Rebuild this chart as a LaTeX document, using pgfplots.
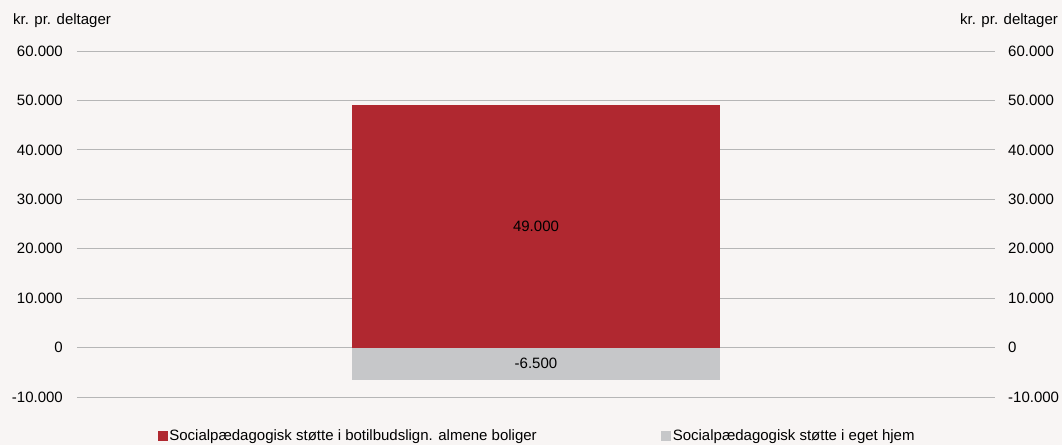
\documentclass[border=0pt]{standalone}
\usepackage{fontspec}
\setmainfont{Liberation Sans}
\usepackage{pgfplots}
\pgfplotsset{compat=1.18}

\definecolor{bg}{RGB}{248,245,244}
\definecolor{barred}{RGB}{176,40,48}
\definecolor{bargray}{RGB}{198,199,201}
\definecolor{gridgray}{RGB}{182,182,182}

\pgfplotsset{
  base/.style={
    at={(0pt,0pt)}, anchor=south west,
    scale only axis, width=918pt, height=346pt,
    xmin=-1, xmax=1, ymin=-10000, ymax=60000,
    ytick={-10000,0,10000,20000,30000,40000,50000,60000},
    scaled y ticks=false,
    xtick=\empty,
    axis line style={draw=none},
    major tick length=0pt,
    /pgf/number format/1000 sep={.},
    /pgf/number format/assume math mode=true,
    tick label style={font=\fontsize{15}{18}\selectfont},
  }
}

\begin{document}
\fontsize{15}{18}\selectfont
\begin{tikzpicture}[font=\fontsize{15}{18}\selectfont]
\fill[bg] (-77pt,-48pt) rectangle (985pt,397pt);
\useasboundingbox (-77pt,-48pt) rectangle (985pt,397pt);

\begin{axis}[base,
  ymajorgrids,
  grid style={gridgray, line width=0.8pt},
  yticklabel style={xshift=-9pt},
  legend columns=2,
  legend style={at={(0.5,0)}, anchor=center, yshift=-39pt, xshift=1pt,
    draw=none, fill=none, font=\fontsize{15}{18}\selectfont,
    nodes={inner xsep=1.5pt}},
  legend image code/.code={\fill[#1] (0pt,-5pt) rectangle (10pt,5pt);},
]
\addplot[ybar, bar width=368pt, bar shift=0pt, fill=barred, draw=none]
  coordinates {(0,49000)};
\addlegendentry{Socialpædagogisk støtte i botilbudslign. almene boliger\hspace*{123pt}}
\addplot[ybar, bar width=368pt, bar shift=0pt, fill=bargray, draw=none]
  coordinates {(0,-6500)};
\addlegendentry{Socialpædagogisk støtte i eget hjem}
\node at (axis cs:0,24500) {49.000};
\node at (axis cs:0,-3250) {-6.500};
\end{axis}

\begin{axis}[base,
  yticklabel pos=right,
  yticklabel style={xshift=8pt},
]
\addplot[draw=none] coordinates {(0,0)};
\end{axis}

\node at (-15pt,376pt) {kr. pr. deltager};
\node at (932pt,376pt) {kr. pr. deltager};
\end{tikzpicture}
\end{document}
